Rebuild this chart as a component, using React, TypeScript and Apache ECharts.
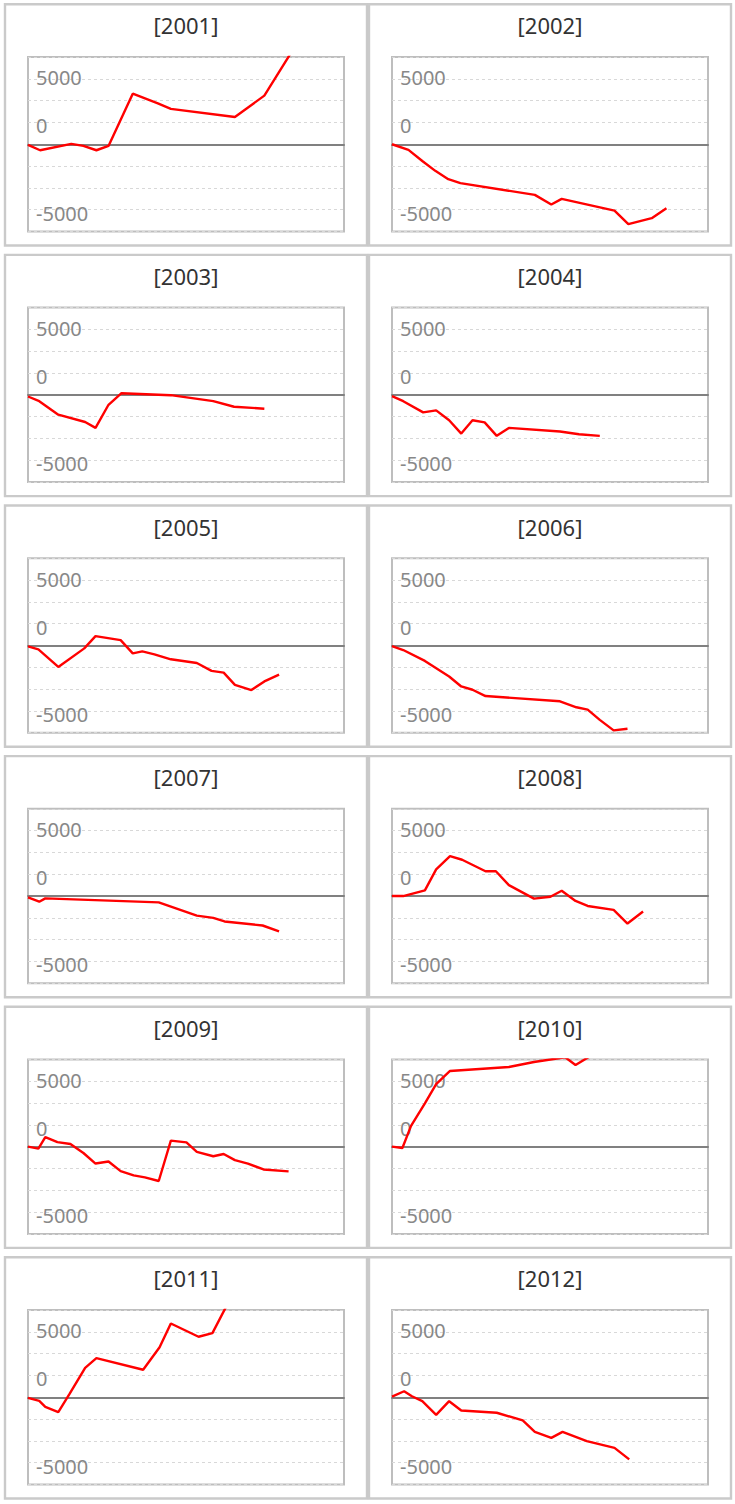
import React, { useEffect, useRef } from "react";
import * as echarts from "echarts";

// ---- data (x = day of year, y = value) ----
const years = ["2001", "2002", "2003", "2004", "2005", "2006", "2007", "2008", "2009", "2010", "2011", "2012"];

const d2001 = [[0, -60], [14, -550], [50, 30], [64, -150], [79, -550], [93, -150], [121, 4640], [150, 3750], [165, 3240], [239, 2500], [273, 4460], [308, 8920]];
const d2002 = [[0, 0], [19, -520], [35, -1530], [50, -2440], [65, -3200], [79, -3570], [165, -4640], [184, -5530], [196, -5010], [257, -6080], [273, -7330], [300, -6780], [317, -5860]];
const d2003 = [[0, -150], [13, -580], [35, -1820], [66, -2490], [78, -3030], [93, -910], [108, 150], [165, -30], [214, -580], [238, -1090], [273, -1270]];
const d2004 = [[0, -120], [13, -580], [36, -1610], [51, -1420], [66, -2330], [80, -3550], [93, -2330], [107, -2520], [121, -3760], [135, -3030], [194, -3360], [216, -3610], [240, -3760]];
const d2005 = [[0, -90], [12, -360], [35, -1970], [65, -270], [78, 850], [107, 490], [121, -730], [132, -550], [146, -820], [165, -1270], [195, -1610], [212, -2330], [226, -2490], [239, -3610], [258, -4090], [273, -3300], [290, -2670]];
const d2006 = [[0, -60], [13, -420], [38, -1420], [66, -2850], [80, -3760], [93, -4060], [108, -4640], [194, -5120], [213, -5670], [226, -5880], [240, -6820], [256, -7790], [272, -7640]];
const d2007 = [[0, -120], [13, -520], [20, -210], [151, -580], [195, -1790], [214, -2000], [227, -2330], [271, -2700], [290, -3240]];
const d2008 = [[0, 0], [13, 0], [38, 520], [51, 2450], [67, 3670], [81, 3330], [108, 2270], [120, 2270], [135, 1000], [164, -240], [183, -60], [196, 490], [212, -450], [226, -910], [256, -1270], [272, -2520], [290, -1420]];
const d2009 = [[0, 0], [12, -180], [20, 880], [34, 420], [49, 240], [64, -580], [78, -1550], [93, -1360], [107, -2240], [122, -2640], [135, -2820], [151, -3150], [165, 550], [183, 390], [195, -480], [214, -880], [226, -670], [239, -1240], [254, -1550], [272, -2090], [301, -2270]];
const d2010 = [[0, 0], [12, -120], [22, 1910], [38, 3970], [51, 5730], [67, 6940], [135, 7300], [164, 7760], [200, 8200], [212, 7480], [230, 8350]];
const d2011 = [[0, -60], [13, -330], [20, -880], [35, -1360], [48, 300], [66, 2700], [79, 3580], [133, 2520], [152, 4580], [165, 6760], [197, 5550], [213, 5880], [230, 8480]];
const d2012 = [[0, 60], [14, 550], [23, 90], [35, -360], [51, -1610], [66, -360], [80, -1210], [121, -1420], [151, -2120], [165, -3180], [184, -3730], [197, -3180], [225, -4030], [257, -4640], [274, -5700]];

const seriesData = [d2001, d2002, d2003, d2004, d2005, d2006, d2007, d2008, d2009, d2010, d2011, d2012];

// y-axis tick labels shown (tick value -> text)
const yLabelTicks = [6000, 2000, -6000];
const yLabelTexts = ["5000", "0", "-5000"];
const yLabelStyles = ["up", "down", "down"];

const FONT = '"Noto Sans", "Open Sans", sans-serif';

export default function App() {
  const ref = useRef<HTMLDivElement>(null);

  useEffect(() => {
    if (!ref.current) return;
    const chart = echarts.init(ref.current, null, { renderer: "svg" });

    const colX = [5, 369];
    const panelW = 362;
    const panelH = 241.2;
    const rowY = (r: number) => 4.3 + r * 250.6;

    const grids: any[] = [];
    const xAxes: any[] = [];
    const yAxes: any[] = [];
    const series: any[] = [];
    const titles: any[] = [];
    const rects: any[] = [];

    const labelRich = {
      up: { color: "#888", fontSize: 20, fontFamily: FONT, padding: [0, 0, 2, 0] },
      down: { color: "#888", fontSize: 20, fontFamily: FONT, padding: [7, 0, 0, 0] },
    };

    years.forEach((yr, i) => {
      const c = i % 2;
      const r = Math.floor(i / 2);
      const px = colX[c];
      const py = rowY(r);
      rects.push({
        type: "rect",
        shape: { x: px, y: py, width: panelW, height: panelH },
        style: { fill: "none", stroke: "#cacaca", lineWidth: 2.4 },
        silent: true,
        z: -1,
      });
      titles.push({
        text: "[" + yr + "]",
        left: px + panelW / 2,
        top: py + 10,
        textAlign: "center",
        padding: 0,
        textStyle: { fontSize: 22, fontWeight: "normal", color: "#333", fontFamily: FONT },
      });
      grids.push({
        left: px + 23,
        top: py + 52.7,
        width: 316,
        height: 174.5,
        show: true,
        borderColor: "#bebebe",
        borderWidth: 2,
        backgroundColor: "transparent",
      });
      xAxes.push({
        gridIndex: i,
        type: "value",
        min: 0,
        max: 365,
        axisLabel: { show: false },
        axisTick: { show: false },
        splitLine: { show: false },
        axisLine: { show: true, onZero: true, lineStyle: { color: "#808080", width: 2 } },
      });
      yAxes.push({
        gridIndex: i,
        type: "value",
        min: -8000,
        max: 8000,
        interval: 2000,
        axisLine: { show: false },
        axisTick: { show: false },
        splitLine: { show: true, lineStyle: { color: "#d8d8d8", type: [3, 3], width: 1 } },
        axisLabel: {
          inside: true,
          margin: 8,
          color: "#888",
          fontSize: 20,
          fontFamily: FONT,
          rich: labelRich,
          formatter: (v: number) => {
            const k = yLabelTicks.indexOf(v);
            return k >= 0 ? "{" + yLabelStyles[k] + "|" + yLabelTexts[k] + "}" : "";
          },
        },
      });
      series.push({
        type: "line",
        xAxisIndex: i,
        yAxisIndex: i,
        data: seriesData[i],
        showSymbol: false,
        symbol: "none",
        clip: true,
        lineStyle: { color: "#ff0000", width: 2.4 },
        itemStyle: { color: "#ff0000" },
        z: 5,
      });
    });

    chart.setOption({
      animation: false,
      backgroundColor: "#fff",
      title: titles,
      grid: grids,
      xAxis: xAxes,
      yAxis: yAxes,
      series,
      graphic: rects,
    });

    return () => chart.dispose();
  }, []);

  return (
    <div
      ref={ref}
      style={{ position: "absolute", left: 0, top: 0, width: 735, height: 1504 }}
    />
  );
}
